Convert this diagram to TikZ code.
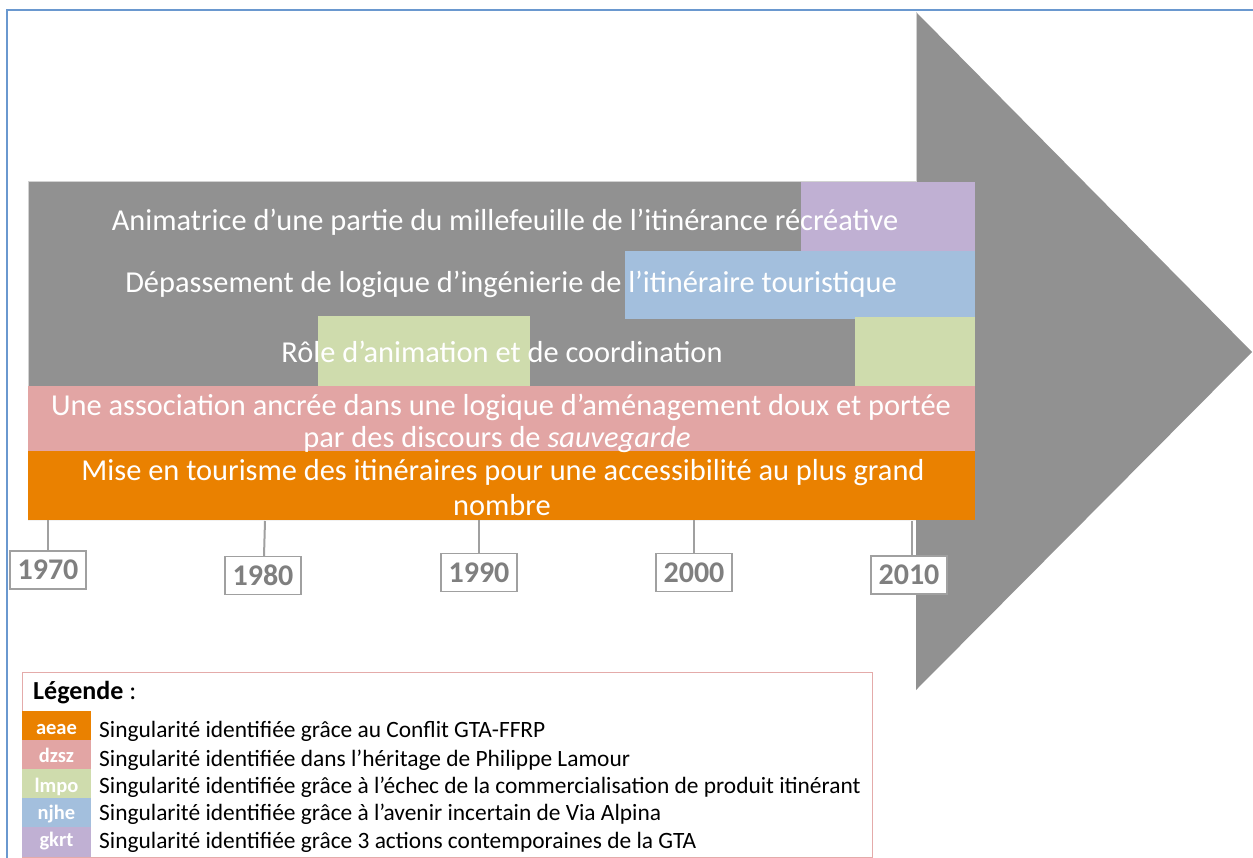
\documentclass[tikz,border=0pt]{standalone}
\usepackage{fontspec}
\setmainfont{Carlito}
\definecolor{arrowgray}{HTML}{919191}
\definecolor{cpurple}{HTML}{C0B0D3}
\definecolor{cblue}{HTML}{A3BFDD}
\definecolor{cgreen}{HTML}{CFDCAD}
\definecolor{cpink}{HTML}{E2A5A4}
\definecolor{corange}{HTML}{EA8100}
\definecolor{frameblue}{HTML}{6A98CF}
\definecolor{legborder}{HTML}{E4ABAA}
\definecolor{yeargray}{HTML}{7F7F7F}
\definecolor{yearborder}{HTML}{A0A0A0}
\tikzset{
  bartext/.style={text=white, font=\fontsize{30.4}{34}\selectfont, anchor=base, inner sep=0pt},
  yearbox/.style={draw=yearborder, line width=1.5pt, fill=white, text=yeargray,
    font=\fontsize{30}{32}\selectfont\bfseries, minimum width=76pt, minimum height=38pt, inner sep=0pt},
  tick/.style={draw=yearborder, line width=2pt},
  swatchlabel/.style={text=white, font=\fontsize{20.5}{24}\selectfont\bfseries, anchor=base, inner sep=0pt},
  legtext/.style={text=black, font=\fontsize{23.4}{26}\selectfont, anchor=base west, inner sep=0pt}
}
\newcommand{\yr}[1]{\raisebox{-2.5pt}{#1}}
\begin{document}
\begin{tikzpicture}[x=1pt,y=-1pt]
\useasboundingbox (0,0) rectangle (1253,858);
\fill[white] (0,0) rectangle (1253,858);
% frame
\draw[frameblue, line width=2.5pt] (7,858) -- (7,10) -- (1253,10);
% arrow
\fill[arrowgray] (28,182) -- (916,182) -- (916,12) -- (1252,352) -- (916,690) -- (916,520) -- (28,520) -- cycle;
\draw[gray!35, line width=1pt] (28,520) -- (28,182) -- (916,182) -- (916,12);
% bars
\fill[cpurple] (801,182) rectangle (975,251);
\fill[cblue] (625,251) rectangle (975,319);
\fill[cgreen] (318,316) rectangle (530,386);
\fill[cgreen] (855,317) rectangle (975,386);
\fill[cpink] (28,386) rectangle (975,451);
\fill[corange] (28,451) rectangle (975,520);
% bar texts
\node[bartext] (t1) at (505,231) {Animatrice d’une partie du millefeuille de l’itinérance récréative};
\node[bartext] (t2) at (511,293) {Dépassement de logique d’ingénierie de l’itinéraire touristique};
\node[bartext] (t3) at (502,363) {Rôle d’animation et de coordination};
\node[bartext] (t4a) at (501,415) {Une association ancrée dans une logique d’aménagement doux et portée};
\node[bartext] (t4b) at (497,447) {par des discours de \textit{sauvegarde}};
\node[bartext] (t5a) at (503,480) {Mise en tourisme des itinéraires pour une accessibilité au plus grand};
\node[bartext] (t5b) at (502,515) {nombre};
% years
\coordinate (c70) at (48,520);
\coordinate (c80) at (265,521);
\coordinate (c90) at (479,520);
\coordinate (c00) at (694,520);
\coordinate (c10) at (912,521);
\draw[tick] (c70) -- (48,551);
\draw[tick] (c80) -- (264,556);
\draw[tick] (c90) -- (479,553);
\draw[tick] (c00) -- (694,553);
\draw[tick] (c10) -- (912,557);
\node[yearbox] (y70) at (48,570) {\yr{1970}};
\node[yearbox] (y80) at (263,575.5) {\yr{1980}};
\node[yearbox] (y90) at (479,572.5) {\yr{1990}};
\node[yearbox] (y00) at (694,572.5) {\yr{2000}};
\node[yearbox] (y10) at (909,575) {\yr{2010}};
% legend
\draw[legborder, line width=1pt, fill=white] (22,672) rectangle (872,857);
\node[anchor=base west, inner sep=0pt, font=\fontsize{26}{30}\selectfont] (leg) at (33,699) {\textbf{Légende} :};
\fill[corange] (22,711) rectangle (91,740);
\fill[cpink] (22,740) rectangle (91,769);
\fill[cgreen] (22,769) rectangle (91,798);
\fill[cblue] (22,798) rectangle (91,827);
\fill[cpurple] (22,827) rectangle (91,857);
\node[swatchlabel] (s1) at (56.5,734) {aeae};
\node[swatchlabel] (s2) at (56.5,762) {dzsz};
\node[swatchlabel] (s3) at (56.5,792) {lmpo};
\node[swatchlabel] (s4) at (56.5,819) {njhe};
\node[swatchlabel] (s5) at (56.5,846) {gkrt};
\node[legtext] (l1) at (99,737) {Singularité identifiée grâce au Conflit GTA-FFRP};
\node[legtext] (l2) at (99,766) {Singularité identifiée dans l’héritage de Philippe Lamour};
\node[legtext] (l3) at (99,793) {Singularité identifiée grâce à l’échec de la commercialisation de produit itinérant};
\node[legtext] (l4) at (99,820) {Singularité identifiée grâce à l’avenir incertain de Via Alpina};
\node[legtext] (l5) at (99,848) {Singularité identifiée grâce 3 actions contemporaines de la GTA};
\end{tikzpicture}
\end{document}
